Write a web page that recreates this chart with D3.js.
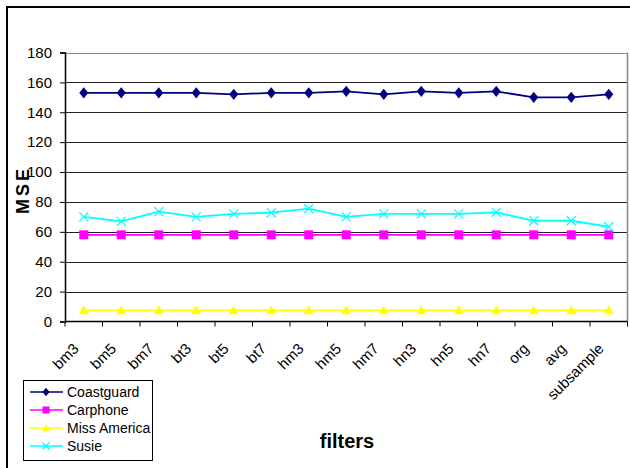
<!DOCTYPE html>
<html><head><meta charset="utf-8">
<script src="https://cdn.jsdelivr.net/npm/d3@7/dist/d3.min.js"></script>
<style>body{margin:0;background:#fff;}svg{display:block;font-family:Arial,"Liberation Sans",sans-serif;}</style>
</head><body><svg id="c" width="630" height="468"></svg>
<script>
const categories = ["bm3","bm5","bm7","bt3","bt5","bt7","hm3","hm5","hm7","hn3","hn5","hn7","org","avg","subsample"];
const coastguard = [153,153,153,153,152,153,153,154,152,154,153,154,150,150,152];
const carphone   = [58,58,58,58,58,58,58,58,58,58,58,58,58,58,58];
const missAmerica= [7.5,7.5,7.5,7.5,7.5,7.5,7.5,7.5,7.5,7.5,7.5,7.5,7.5,7.5,7.5];
const susie      = [70,67,73.5,70,72,72.8,75.5,70,72,72,72,73,67.4,67.4,63.4];
const yTicks = [0,20,40,60,80,100,120,140,160,180];
const seriesNames = ["Coastguard","Carphone","Miss America","Susie"];

const series = [
  {name: seriesNames[0], values: coastguard, color:"#000080", marker:"diamond"},
  {name: seriesNames[1], values: carphone, color:"#FF00FF", marker:"square"},
  {name: seriesNames[2], values: missAmerica, color:"#FFFF00", marker:"triangle"},
  {name: seriesNames[3], values: susie, color:"#00FFFF", marker:"x"}
];

const svg = d3.select("#c");
const L = 65, R = 627.5, T = 52.5, B = 321.5;

// outer frame
svg.append("rect").attr("x",7).attr("y",7).attr("width",700).attr("height",600)
  .attr("fill","none").attr("stroke","#000").attr("stroke-width",2);

const x = d3.scaleBand().domain(categories).range([L,R]);
const y = d3.scaleLinear().domain([0,180]).range([B,T]);

// gridlines
svg.append("g").selectAll("line").data(yTicks.filter(d=>d>0)).join("line")
  .attr("x1",L).attr("x2",R).attr("y1",d=>Math.round(y(d))+0.5).attr("y2",d=>Math.round(y(d))+0.5)
  .attr("stroke",d=>d===180?"#888":"#222").attr("stroke-width",1);
// right border
svg.append("line").attr("x1",R).attr("x2",R).attr("y1",T).attr("y2",B).attr("stroke","#888").attr("stroke-width",1.5);

// y axis
const yAxis = d3.axisLeft(y).tickValues(yTicks).tickSize(5).tickPadding(8).tickFormat(d3.format("d"));
const gy = svg.append("g").attr("transform",`translate(${L},0)`).call(yAxis);
gy.select(".domain").attr("stroke","#000").attr("stroke-width",1.5);
gy.selectAll(".tick line").attr("stroke","#000");
gy.selectAll("text").attr("font-size",15).attr("fill","#000").attr("font-family","Arial, 'Liberation Sans', sans-serif");

// x axis
const gx = svg.append("g").attr("transform",`translate(0,${B})`);
gx.append("line").attr("x1",L).attr("x2",R).attr("y1",0).attr("y2",0).attr("stroke","#000").attr("stroke-width",1.5);
const bounds = categories.map(c=>x(c)).concat([R]);
gx.selectAll("line.tk").data(bounds).join("line").attr("class","tk")
  .attr("x1",d=>d).attr("x2",d=>d).attr("y1",0).attr("y2",5).attr("stroke","#000");
gx.selectAll("text").data(categories).join("text")
  .attr("transform",c=>`translate(${x(c)+x.bandwidth()/2-4},${28}) rotate(-45)`)
  .attr("text-anchor","end").attr("font-size",15).attr("fill","#000").text(c=>c);

// lines and markers
const cx = i => x(categories[i]) + x.bandwidth()/2;
const line = d3.line().x((d,i)=>cx(i)).y(d=>y(d));
function marker(g, type, color, s){
  if(type==="diamond") g.append("path").attr("d",`M0,${-s*0.62}L${s*0.5},0L0,${s*0.62}L${-s*0.5},0Z`).attr("fill",color);
  else if(type==="square") g.append("rect").attr("x",-s/2).attr("y",-s/2).attr("width",s).attr("height",s).attr("fill",color);
  else if(type==="triangle") g.append("path").attr("d",`M0,${-s*0.55}L${s*0.55},${s*0.45}L${-s*0.55},${s*0.45}Z`).attr("fill",color);
  else if(type==="x") g.append("path").attr("d",`M${-s/2},${-s/2}L${s/2},${s/2}M${s/2},${-s/2}L${-s/2},${s/2}`).attr("stroke",color).attr("stroke-width",1.3).attr("fill","none");
}
series.forEach(s=>{
  svg.append("path").datum(s.values).attr("d",line).attr("fill","none").attr("stroke",s.color).attr("stroke-width",1.8);
  s.values.forEach((v,i)=>{
    const g = svg.append("g").attr("transform",`translate(${cx(i)},${y(v)})`);
    marker(g, s.marker, s.color, 9);
  });
});

// axis titles
svg.append("text").attr("transform","translate(29,190) rotate(-90)").attr("text-anchor","middle")
  .attr("font-size",18).attr("font-weight","bold").attr("letter-spacing",3).text("MSE");
svg.append("text").attr("x",347).attr("y",448).attr("text-anchor","middle")
  .attr("font-size",20).attr("font-weight","bold").text("filters");

// legend
const lg = svg.append("g");
lg.append("rect").attr("x",23.5).attr("y",380.5).attr("width",129).attr("height",80)
  .attr("fill","#fff").attr("stroke","#000").attr("stroke-width",1);
series.forEach((s,i)=>{
  const yy = 392 + i*18;
  lg.append("line").attr("x1",30).attr("x2",63).attr("y1",yy).attr("y2",yy).attr("stroke",s.color).attr("stroke-width",1.5);
  const g = lg.append("g").attr("transform",`translate(46,${yy})`);
  marker(g, s.marker, s.color, 7);
  lg.append("text").attr("x",67).attr("y",yy+5).attr("font-size",14).attr("fill","#000").text(s.name);
});
</script></body></html>
